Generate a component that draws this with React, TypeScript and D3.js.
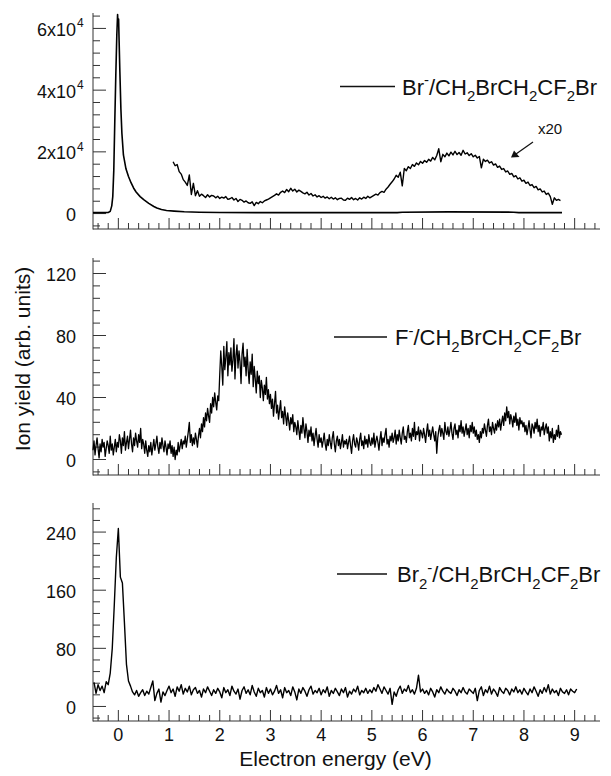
import React from "react";
import * as d3 from "d3";

const W = 611;
const H = 776;

// ---------- shared x axis ----------
const X_DOMAIN = [-0.5, 9.5];
const X_MAJOR = [0, 1, 2, 3, 4, 5, 6, 7, 8, 9];
const X_MINOR_STEP = 0.2;

// ---------- panel 1 : Br- ----------
const BR_E = [-0.5, -0.3, -0.2, -0.16, -0.13, -0.11, -0.09, -0.07, -0.05, -0.03, -0.015, -0.005, 0.005, 0.015, 0.03, 0.05, 0.07, 0.1, 0.15, 0.2, 0.25, 0.3, 0.35, 0.43, 0.5, 0.6, 0.7, 0.76, 0.85, 0.95, 1.1, 1.3, 1.6, 2.0, 3.0, 5.5, 5.6, 6.5, 7.8, 7.9, 8.75];
const BR_Y = [300, 300, 350, 700, 2500, 5500, 14000, 30000, 45000, 58000, 64500, 61000, 63000, 56000, 46000, 34000, 26000, 19000, 14500, 12000, 10000, 8300, 7000, 5500, 4500, 3300, 2300, 1800, 1300, 1000, 800, 600, 450, 350, 300, 300, 450, 550, 450, 300, 300];

const BR20_E0 = 1.08;
const BR20_STEP = 0.04;
const BR20_Y = [
  16800, 15500, 15900, 13600, 12800, 11000, 10200, 9100, 12500, 6200, 9800, 5800, 7400, 5600, 6300, 5800, 5200, 6100, 5400, 5900, 5700, 5100, 5600, 4900, 5300,
  5000, 5500, 4600, 4800, 5200, 4400, 4900, 3900, 4600, 4300, 3700, 4100, 3500, 3300, 3800, 2600, 3600, 3200, 3900, 3500, 4100, 4400, 4700, 5100, 5500,
  5900, 6400, 6000, 6900, 7300, 6800, 7800, 7100, 8200, 7300, 7900, 7000, 7600, 7200, 6700, 6400, 6900, 6000, 6500, 5700, 6100, 5400, 5800, 5200, 5600,
  5000, 5400, 4800, 5300, 4700, 5100, 4500, 4900, 5000, 4400, 4300, 5000, 4600, 5200, 4500, 4900, 4400, 5100, 4700, 5300, 4900, 5600, 5100, 5500, 5900,
  6300, 6000, 6800, 7200, 6900, 7900, 8600, 9500, 10300, 11200, 12400, 11800, 13400, 9000, 14600, 13900, 15200, 14600, 15900, 15300, 16400, 15800, 16900, 16300, 17200,
  16600, 17600, 17000, 18200, 17400, 18800, 21000, 16800, 19200, 18400, 19600, 18700, 19900, 19000, 20200, 19100, 19800, 18900, 20500, 19300, 19700, 18800, 19400, 18400, 18900,
  18000, 18500, 14800, 17600, 16900, 17300, 16400, 16800, 15700, 16100, 15000, 15400, 14300, 14600, 13500, 13800, 12700, 13000, 11900, 12300, 11200, 11600, 10500, 10800, 9800,
  10200, 9100, 9400, 8400, 8800, 7700, 8000, 7000, 7300, 6200, 6600, 5500, 3000, 5100, 4300, 4600, 4200,
];
const P1_Y_MAJOR = [0, 20000, 40000, 60000];
const P1_Y_LABELS = ["0", "2x10", "4x10", "6x10"];
const P1_Y_LABEL_EXP = ["", "4", "4", "4"];

// ---------- panel 2 : F- ----------
const F_E0 = -0.5;
const F_STEP = 0.02;
const F_Y = [
  6, 12, 3, 9, 14, 7, 1, 10, 5, 13, 8, 11, 2, 7, 12, 9, 4, 15, 6, 10, 3, 8, 13, 5, 11,
  8, 16, 12, 4, 14, 9, 18, 6, 11, 15, 7, 13, 19, 10, 5, 14, 9, 17, 12, 8, 16, 11, 20, 7, 13,
  10, 4, 12, 6, 2, 9, 5, 11, 3, 8, 13, 6, 10, 15, 8, 4, 11, 7, 14, 9, 5, 12, 8, 3, 10,
  7, 12, 4, 9, 2, 8, 0, 6, 3, 11, 5, 9, 13, 7, 12, 10, 15, 8, 13, 18, 24, 11, 16, 9, 14,
  10, 17, 13, 8, 15, 20, 14, 23, 18, 27, 21, 30, 25, 33, 28, 24, 36, 30, 40, 34, 43, 37, 32, 41, 38,
  55, 70, 60, 48, 73, 58, 66, 76, 54, 69, 61, 72, 57, 64, 78, 52, 67, 74, 59, 70, 63, 49, 68, 75, 60,
  66, 54, 71, 58, 49, 63, 55, 68, 47, 60, 52, 43, 57, 49, 54, 40, 51, 46, 38, 48, 42, 53, 39, 45, 36,
  42, 33, 39, 28, 36, 44, 30, 35, 26, 32, 38, 27, 31, 23, 34, 28, 22, 30, 25, 19, 27, 23, 29, 18, 24,
  21, 16, 25, 19, 13, 22, 17, 27, 20, 14, 23, 18, 11, 19, 15, 21, 12, 17, 9, 15, 20, 13, 8, 16, 11,
  14, 8, 12, 17, 10, 6, 13, 9, 16, 11, 7, 14, 18, 10, 5, 12, 15, 9, 13, 7, 11, 16, 8, 12, 10,
  13, 7, 11, 15, 9, 4, 12, 16, 10, 8, 14, 11, 6, 13, 17, 9, 12, 7, 15, 10, 13, 8, 16, 11, 9,
  14, 10, 17, 8, 12, 15, 11, 6, 13, 18, 9, 14, 11, 16, 20, 10, 13, 8, 15, 12, 17, 11, 14, 19, 10,
  16, 12, 19, 14, 10, 17, 21, 13, 15, 11, 18, 22, 14, 17, 12, 20, 15, 24, 13, 18, 16, 21, 12, 19, 17,
  14, 20, 16, 11, 18, 23, 15, 19, 13, 17, 21, 16, 12, 18, 4, 14, 19, 22, 15, 20, 17, 13, 24, 18, 16,
  21, 15, 19, 24, 17, 13, 20, 23, 16, 19, 14, 22, 18, 25, 17, 21, 15, 19, 23, 16, 20, 14, 22, 18, 24,
  17, 21, 15, 19, 13, 16, 11, 18, 14, 20, 17, 23, 19, 15, 22, 26, 18, 21, 16, 24, 20, 17, 23, 19, 25,
  21, 26, 19, 24, 28, 22, 30, 25, 34, 27, 31, 23, 29, 26, 21, 28, 24, 30, 22, 26, 19, 27, 23, 25, 21,
  24, 18, 22, 16, 20, 25, 19, 14, 23, 21, 17, 24, 20, 26, 18, 22, 15, 21, 19, 24, 16, 20, 23, 17, 21,
  12, 18, 14, 20, 11, 16, 13, 19, 15, 22, 14, 18, 16,
];
const P2_Y_MAJOR = [0, 40, 80, 120];

// ---------- panel 3 : Br2- ----------
const BR2_E0 = -0.48;
const BR2_STEP = 0.04;
const BR2_Y = [
  33, 18, 30, 22, 28, 19, 34, 30, 46, 80, 140, 205,
  245, 178, 170, 115, 58, 35, 28, 20, 16, 22, 14, 19, 23, 15, 21, 17, 26, 35, 8, 18, 24, 6, 20, 15, 22,
  28, 19, 24, 14, 27, 21, 30, 17, 25, 20, 28, 16, 23, 26, 18, 22, 13, 24, 19, 27, 21, 15, 23, 18, 25,
  20, 12, 26, 19, 23, 15, 28, 21, 17, 24, 10, 22, 27, 18, 23, 16, 29, 20, 14, 25, 19, 22, 13, 26, 18,
  24, 16, 21, 29, 18, 23, 12, 26, 19, 22, 15, 27, 20, 9, 24, 18, 26, 21, 14, 23, 28, 17, 22, 19, 25,
  16, 23, 19, 27, 14, 22, 18, 25, 20, 15, 24, 19, 26, 13, 21, 17, 24, 20, 28, 16, 22, 19, 25, 18, 23,
  19, 26, 21, 30, 24, 18, 27, 22, 17, 25, 3, 20, 14, 23, 28, 18, 24, 21, 29, 19, 23, 17, 25, 43, 20,
  24, 18, 22, 16, 25, 20, 13, 23, 19, 27, 21, 17, 24, 20, 18, 25, 21, 15, 23, 19, 26, 20, 17, 24, 21,
  18, 25, 8, 22, 27, 15, 23, 19, 28, 17, 24, 20, 14, 26, 21, 18, 25, 22, 16, 24, 20, 27, 19, 23, 17,
  25, 20, 16, 24, 19, 27, 21, 14, 23, 18, 26, 20, 30, 17, 24, 19, 22, 15, 25, 20, 18, 23, 16, 24, 21,
  19, 24,
];
const P3_Y_MAJOR = [0, 80, 160, 240];

const FONT = "'Liberation Sans', Arial, Helvetica, sans-serif";
const AXIS_COLOR = "#333";

type Seg = { t: string; sub?: boolean; sup?: boolean };

function RichText({ x, y, segs, size }: { x: number; y: number; segs: Seg[]; size: number }) {
  const small = size * 0.68;
  const out: React.ReactNode[] = [];
  let cur = 0;
  segs.forEach((s, i) => {
    const target = s.sub ? size * 0.3 : s.sup ? -size * 0.42 : 0;
    const dy = target - cur;
    cur = target;
    out.push(
      <tspan key={i} dy={dy} fontSize={s.sub || s.sup ? small : size}>
        {s.t}
      </tspan>
    );
  });
  return (
    <text x={x} y={y} fontFamily={FONT} fontSize={size} fill="#111">
      {out}
    </text>
  );
}

function gridSeries(e0: number, step: number, ys: number[]) {
  return ys.map((v, i) => [e0 + i * step, v] as [number, number]);
}

const LEG1: Seg[] = [{ t: "Br" }, { t: "-", sup: true }, { t: "/CH" }, { t: "2", sub: true }, { t: "BrCH" }, { t: "2", sub: true }, { t: "CF" }, { t: "2", sub: true }, { t: "Br" }];
const LEG2: Seg[] = [{ t: "F" }, { t: "-", sup: true }, { t: "/CH" }, { t: "2", sub: true }, { t: "BrCH" }, { t: "2", sub: true }, { t: "CF" }, { t: "2", sub: true }, { t: "Br" }];
const LEG3: Seg[] = [{ t: "Br" }, { t: "2", sub: true }, { t: "-", sup: true }, { t: "/CH" }, { t: "2", sub: true }, { t: "BrCH" }, { t: "2", sub: true }, { t: "CF" }, { t: "2", sub: true }, { t: "Br" }];

export default function App() {
  const x = d3.scaleLinear().domain(X_DOMAIN).range([93, 600]);
  const xMinor = d3
    .range(-0.4, 9.5, X_MINOR_STEP)
    .map((v) => Math.round(v * 10) / 10)
    .filter((v) => Math.abs(v - Math.round(v)) > 1e-6);

  const panels = [
    { domain: [-5000, 65000], range: [229, 13], major: P1_Y_MAJOR, minorStep: 4000, minorFrom: -4000, minorTo: 64000 },
    { domain: [-10, 130], range: [475, 258], major: P2_Y_MAJOR, minorStep: 8, minorFrom: -8, minorTo: 128 },
    { domain: [-20, 280], range: [721, 503], major: P3_Y_MAJOR, minorStep: 16, minorFrom: -16, minorTo: 272 },
  ];
  const ys = panels.map((p) => d3.scaleLinear().domain(p.domain).range(p.range));

  const lineFor = (yS: d3.ScaleLinear<number, number>) =>
    d3
      .line<[number, number]>()
      .x((d) => x(d[0]))
      .y((d) => yS(d[1]));

  const brMain = BR_E.map((e, i) => [e, BR_Y[i]] as [number, number]);
  const br20 = gridSeries(BR20_E0, BR20_STEP, BR20_Y);
  const fSer = gridSeries(F_E0, F_STEP, F_Y);
  const br2Ser = gridSeries(BR2_E0, BR2_STEP, BR2_Y);

  const axes = panels.map((p, pi) => {
    const yS = ys[pi];
    const y0 = p.range[0];
    const y1 = p.range[1];
    const minors = d3.range(p.minorFrom, p.minorTo + p.minorStep / 2, p.minorStep).filter((v) => !p.major.includes(v));
    return (
      <g key={pi} stroke={AXIS_COLOR} strokeWidth={1}>
        <line x1={93} x2={93} y1={y1} y2={y0 + 0.5} />
        <line x1={93} x2={600} y1={y0} y2={y0} />
        {p.major.map((v) => (
          <line key={"M" + v} x1={93} x2={106} y1={yS(v)} y2={yS(v)} />
        ))}
        {minors.map((v) => (
          <line key={"m" + v} x1={93} x2={100} y1={yS(v)} y2={yS(v)} />
        ))}
        {X_MAJOR.map((v) => (
          <line key={"XM" + v} x1={x(v)} x2={x(v)} y1={y0} y2={y0 - 11} />
        ))}
        {xMinor.map((v) => (
          <line key={"Xm" + v} x1={x(v)} x2={x(v)} y1={y0} y2={y0 - 6} />
        ))}
      </g>
    );
  });

  const tickSize = 18;

  return (
    <svg width={W} height={H} style={{ position: "absolute", left: 0, top: 0, background: "#fff" }}>
      <rect x={0} y={0} width={W} height={H} fill="#fff" />
      {axes}

      {P1_Y_MAJOR.map((v, i) => (
        <g key={"l1" + v}>
          <text x={76} y={ys[0](v) + 7.5} fontFamily={FONT} fontSize={tickSize} textAnchor="end" fill="#111">
            {P1_Y_LABELS[i]}
          </text>
          {P1_Y_LABEL_EXP[i] && (
            <text x={77} y={ys[0](v) - 1} fontFamily={FONT} fontSize={12} fill="#111">
              {P1_Y_LABEL_EXP[i]}
            </text>
          )}
        </g>
      ))}
      {P2_Y_MAJOR.map((v) => (
        <text key={"l2" + v} x={76} y={ys[1](v) + 7.5} fontFamily={FONT} fontSize={tickSize} textAnchor="end" fill="#111">
          {v}
        </text>
      ))}
      {P3_Y_MAJOR.map((v) => (
        <text key={"l3" + v} x={76} y={ys[2](v) + 7.5} fontFamily={FONT} fontSize={tickSize} textAnchor="end" fill="#111">
          {v}
        </text>
      ))}
      {X_MAJOR.map((v) => (
        <text key={"xl" + v} x={x(v)} y={741} fontFamily={FONT} fontSize={tickSize} textAnchor="middle" fill="#111">
          {v}
        </text>
      ))}

      <text x={335.5} y={766} fontFamily={FONT} fontSize={21} textAnchor="middle" fill="#111">
        Electron energy (eV)
      </text>
      <text transform="translate(30,359) rotate(-90)" fontFamily={FONT} fontSize={21} textAnchor="middle" fill="#111">
        Ion yield (arb. units)
      </text>

      <g fill="none" stroke="#000" strokeLinejoin="round">
        <path d={lineFor(ys[0])(brMain) || ""} strokeWidth={1.6} />
        <path d={lineFor(ys[0])(br20) || ""} strokeWidth={1.4} />
        <path d={lineFor(ys[1])(fSer) || ""} strokeWidth={1.3} />
        <path d={lineFor(ys[2])(br2Ser) || ""} strokeWidth={1.4} />
      </g>

      <text x={538} y={134} fontFamily={FONT} fontSize={15} fill="#111">
        x20
      </text>
      <line x1={533} y1={142} x2={516} y2={154} stroke="#111" strokeWidth={1.2} />
      <path d="M511,157.5 L514,150.5 L519.5,157 Z" fill="#111" />

      <line x1={340} x2={395} y1={86.5} y2={86.5} stroke="#111" strokeWidth={1.4} />
      <RichText x={402} y={94.5} size={22} segs={LEG1} />

      <line x1={334} x2={387} y1={337} y2={337} stroke="#111" strokeWidth={1.4} />
      <RichText x={395} y={345} size={22} segs={LEG2} />

      <line x1={337} x2={387} y1={574} y2={574} stroke="#111" strokeWidth={1.4} />
      <RichText x={397} y={582} size={22} segs={LEG3} />
    </svg>
  );
}
